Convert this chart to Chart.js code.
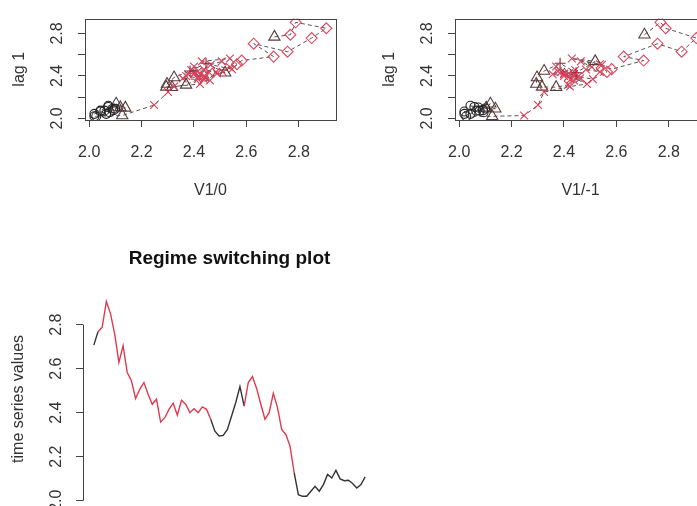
<!DOCTYPE html>
<html>
<head>
<meta charset="utf-8">
<title>Regime switching plot</title>
<script src="https://cdn.jsdelivr.net/npm/chart.js"></script>
<style>
    html, body {
        margin: 0;
        padding: 0;
        background: #fff;
        width: 697px;
        height: 506px;
        overflow: hidden;
    }
    canvas {
        position: absolute;
    }
    #lag1_chart { left: 0; top: 0; }
    #lag2_chart { left: 370px; top: 0; }
    #regime_chart { left: 0; top: 240px; }
</style>
</head>
<body>
<canvas id="lag1_chart" width="348" height="215"></canvas>
<canvas id="lag2_chart" width="348" height="215"></canvas>
<canvas id="regime_chart" width="390" height="300"></canvas>

<script>
// time series
const seriesValues = [
    2.707, 2.768, 2.788, 2.905, 2.849, 2.757, 2.628, 2.704, 2.582, 2.545,
    2.464, 2.506, 2.537, 2.484, 2.438, 2.461, 2.357, 2.377, 2.415, 2.443,
    2.389, 2.456, 2.438, 2.400, 2.418, 2.400, 2.426, 2.415, 2.370, 2.316,
    2.294, 2.297, 2.324, 2.385, 2.446, 2.519, 2.430, 2.537, 2.564, 2.510,
    2.438, 2.370, 2.400, 2.488, 2.423, 2.324, 2.301, 2.248, 2.126, 2.027,
    2.020, 2.020, 2.043, 2.065, 2.043, 2.073, 2.119, 2.103, 2.138, 2.099,
    2.091, 2.093, 2.078, 2.058, 2.073, 2.108
];
// 1 = high regime (red), 0 = low regime (black)
const regimes = [
    0, 1, 1, 1, 1, 1, 1, 1, 1, 1,
    1, 1, 1, 1, 1, 1, 1, 1, 1, 1,
    1, 1, 1, 1, 1, 1, 1, 1, 0, 0,
    0, 0, 0, 0, 0, 0, 1, 1, 1, 1,
    1, 1, 1, 1, 1, 1, 1, 1, 0, 0,
    0, 0, 0, 0, 0, 0, 0, 0, 0, 0,
    0, 0, 0, 0, 0, 0
];
const lagTicks = [2.0, 2.2, 2.4, 2.6, 2.8];
const lagLabelled = [2.0, 2.4, 2.8];
const valueTicks = [2.0, 2.2, 2.4, 2.6, 2.8];

const lag1Points = seriesValues.slice(0, -1).map((v, i) => ({ x: v, y: seriesValues[i + 1] }));
const lag2Points = seriesValues.slice(0, -2).map((v, i) => ({ x: v, y: seriesValues[i + 2] }));
const timeIndex = seriesValues.map((v, i) => i);

const RED = '#df3a4e';
const DARK = '#333333';
const AXIS = '#444444';

Chart.defaults.font.family = "'Liberation Sans', Arial, sans-serif";
Chart.defaults.font.size = 16;
Chart.defaults.color = '#333';

// R-like frame: box round the plot region, or an axis line between end ticks
const rFrame = {
    id: 'rFrame',
    afterDraw(chart, args, opts) {
        const ctx = chart.ctx;
        const a = chart.chartArea;
        ctx.save();
        ctx.strokeStyle = AXIS;
        ctx.lineWidth = 1;
        if (opts.box) {
            ctx.strokeRect(Math.round(a.left) + 0.5, Math.round(a.top) + 0.5,
                Math.round(a.width), Math.round(a.height));
        }
        if (opts.yLine) {
            const y = chart.scales.y;
            ctx.beginPath();
            ctx.moveTo(Math.round(a.left) + 0.5, y.getPixelForValue(opts.yLine[0]));
            ctx.lineTo(Math.round(a.left) + 0.5, y.getPixelForValue(opts.yLine[1]));
            ctx.stroke();
        }
        ctx.restore();
    }
};

function pointShape(i) {
    const v = seriesValues[i];
    if (regimes[i]) return v >= 2.55 ? 'rectRot' : 'crossRot';
    if (v < 2.1) return 'circle';
    if (v < 2.38 || v >= 2.5) return 'triangle';
    return 'cross';
}
function pointColour(i) {
    const s = pointShape(i);
    if (s === 'rectRot') return '#e0475f';
    if (s === 'crossRot') return '#d9415a';
    if (s === 'cross') return '#8b2335';
    if (s === 'triangle') return '#5b3b3b';
    return '#222222';
}
function pointSize(i) {
    const s = pointShape(i);
    if (s === 'triangle') return 6.5;
    if (s === 'circle') return 4.5;
    return 5.5;
}

function fixedTicks(values) {
    return scale => { scale.ticks = values.map(v => ({ value: v })); };
}

function lagChart(id, points, xTitle) {
    return new Chart(document.getElementById(id), {
        type: 'scatter',
        data: {
            datasets: [{
                data: points,
                showLine: true,
                borderColor: '#555',
                borderWidth: 1,
                borderDash: [4, 3],
                pointStyle: ctx => pointShape(ctx.dataIndex),
                pointRadius: ctx => pointSize(ctx.dataIndex),
                pointBorderColor: ctx => pointColour(ctx.dataIndex),
                pointBackgroundColor: 'rgba(0,0,0,0)',
                pointBorderWidth: 1.1
            }]
        },
        options: {
            responsive: false,
            animation: false,
            devicePixelRatio: 1,
            layout: { padding: { left: 0, top: 10, right: 12, bottom: 0 } },
            scales: {
                x: {
                    min: 1.984,
                    max: 2.942,
                    afterBuildTicks: fixedTicks(lagTicks),
                    afterFit: scale => { scale.height = 95; },
                    grid: { drawOnChartArea: false, drawTicks: true, tickLength: 7, tickColor: AXIS },
                    border: { display: false },
                    ticks: { padding: 16, maxRotation: 0, callback: v => v.toFixed(1) },
                    title: { display: true, text: xTitle, padding: { top: 0, bottom: 15 } }
                },
                y: {
                    min: 1.985,
                    max: 2.94,
                    afterBuildTicks: fixedTicks(lagTicks),
                    afterFit: scale => { scale.width = 85; },
                    grid: { drawOnChartArea: false, drawTicks: true, tickLength: 7, tickColor: AXIS },
                    border: { display: false },
                    ticks: {
                        padding: 9,
                        minRotation: 90,
                        maxRotation: 90,
                        crossAlign: 'center',
                        callback: v => lagLabelled.some(l => Math.abs(l - v) < 1e-9) ? v.toFixed(1) : ''
                    },
                    title: { display: true, text: 'lag 1', padding: { top: 10, bottom: 0 } }
                }
            },
            plugins: {
                legend: { display: false },
                tooltip: { enabled: false },
                rFrame: { box: true }
            }
        },
        plugins: [rFrame]
    });
}

lagChart('lag1_chart', lag1Points, 'V1/0');
lagChart('lag2_chart', lag2Points, 'V1/-1');

new Chart(document.getElementById('regime_chart'), {
    type: 'line',
    data: {
        datasets: [{
            data: timeIndex.map((t, i) => ({ x: t, y: seriesValues[i] })),
            borderWidth: 1.4,
            borderColor: DARK,
            pointRadius: 0,
            tension: 0,
            segment: {
                borderColor: ctx => regimes[ctx.p0DataIndex] ? RED : DARK
            }
        }]
    },
    options: {
        responsive: false,
        animation: false,
        devicePixelRatio: 1,
        layout: { padding: { left: 0, top: 0, right: 14, bottom: 36 } },
        scales: {
            x: {
                type: 'linear',
                min: -2.6,
                max: 67.6,
                display: false
            },
            y: {
                min: 1.985,
                max: 2.94,
                afterBuildTicks: fixedTicks(valueTicks),
                afterFit: scale => { scale.width = 83; },
                grid: { drawOnChartArea: false, drawTicks: true, tickLength: 7, tickColor: AXIS },
                border: { display: false },
                ticks: {
                    padding: 8,
                    minRotation: 90,
                    maxRotation: 90,
                    crossAlign: 'center',
                    callback: v => v.toFixed(1)
                },
                title: { display: true, text: 'time series values', padding: { top: 9, bottom: 0 } }
            }
        },
        plugins: {
            legend: { display: false },
            tooltip: { enabled: false },
            title: {
                display: true,
                text: 'Regime switching plot',
                fullSize: false,
                color: '#111',
                font: { size: 19, weight: 'bold' },
                padding: { top: 7, bottom: 24 }
            },
            rFrame: { yLine: [2.0, 2.8] }
        }
    },
    plugins: [rFrame]
});
</script>
</body>
</html>
